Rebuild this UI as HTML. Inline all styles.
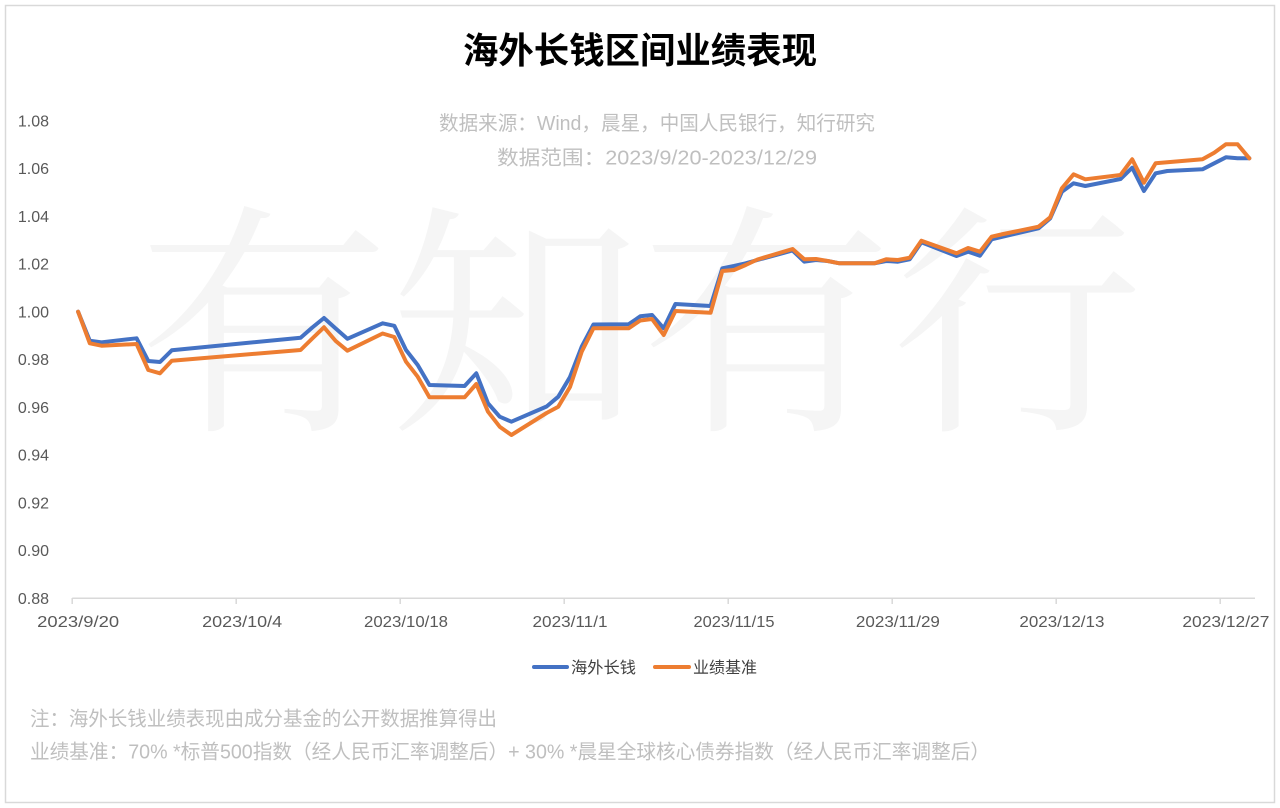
<!DOCTYPE html>
<html>
<head>
<meta charset="utf-8">
<style>
html,body{margin:0;padding:0;background:#fff;}
svg{display:block;}
.t{font-family:"Liberation Sans","Noto Sans CJK SC",sans-serif;}
</style>
</head>
<body>
<svg width="1280" height="808" viewBox="0 0 1280 808" xmlns="http://www.w3.org/2000/svg">
<rect x="0" y="0" width="1280" height="808" fill="#fff"/>
<rect x="5.5" y="5.5" width="1269" height="797" fill="#fff" stroke="#d9d9d9" stroke-width="1.5"/>

<!-- watermark -->
<text x="138" y="412" font-family="'Noto Serif CJK SC','Noto Sans CJK SC',serif" font-size="245" fill="#f5f5f5" textLength="1005" lengthAdjust="spacingAndGlyphs">有知有行</text>

<!-- title -->
<text class="t" x="463" y="63" font-size="36" font-weight="bold" fill="#000" textLength="354" lengthAdjust="spacingAndGlyphs">海外长钱区间业绩表现</text>
<text class="t" x="439" y="130" font-size="20" fill="#bfbfbf" textLength="436" lengthAdjust="spacingAndGlyphs">数据来源：Wind，晨星，中国人民银行，知行研究</text>
<text class="t" x="497" y="164.5" font-size="20" fill="#bfbfbf" textLength="320" lengthAdjust="spacingAndGlyphs">数据范围：2023/9/20-2023/12/29</text>

<!-- y labels -->
<g class="t" font-size="16" fill="#595959" text-anchor="end">
<text x="49" y="126.4">1.08</text>
<text x="49" y="174.2">1.06</text>
<text x="49" y="221.9">1.04</text>
<text x="49" y="269.7">1.02</text>
<text x="49" y="317.4">1.00</text>
<text x="49" y="365.2">0.98</text>
<text x="49" y="412.9">0.96</text>
<text x="49" y="460.7">0.94</text>
<text x="49" y="508.4">0.92</text>
<text x="49" y="556.2">0.90</text>
<text x="49" y="603.9">0.88</text>
</g>

<!-- x axis -->
<line x1="72.2" y1="598.2" x2="1255" y2="598.2" stroke="#d9d9d9" stroke-width="1.5"/>
<g stroke="#d9d9d9" stroke-width="1.5">
<line x1="72.2" y1="598" x2="72.2" y2="604"/>
<line x1="236.2" y1="598" x2="236.2" y2="604"/>
<line x1="400.2" y1="598" x2="400.2" y2="604"/>
<line x1="564.2" y1="598" x2="564.2" y2="604"/>
<line x1="728.2" y1="598" x2="728.2" y2="604"/>
<line x1="892.2" y1="598" x2="892.2" y2="604"/>
<line x1="1056.2" y1="598" x2="1056.2" y2="604"/>
<line x1="1220.2" y1="598" x2="1220.2" y2="604"/>
</g>
<g class="t" font-size="16" fill="#595959" text-anchor="middle">
<text x="78.1" y="627" textLength="82" lengthAdjust="spacingAndGlyphs">2023/9/20</text>
<text x="242.1" y="627" textLength="80" lengthAdjust="spacingAndGlyphs">2023/10/4</text>
<text x="406.0" y="627" textLength="84" lengthAdjust="spacingAndGlyphs">2023/10/18</text>
<text x="570.0" y="627" textLength="75" lengthAdjust="spacingAndGlyphs">2023/11/1</text>
<text x="734.0" y="627" textLength="81" lengthAdjust="spacingAndGlyphs">2023/11/15</text>
<text x="897.9" y="627" textLength="84" lengthAdjust="spacingAndGlyphs">2023/11/29</text>
<text x="1061.9" y="627" textLength="85" lengthAdjust="spacingAndGlyphs">2023/12/13</text>
<text x="1225.9" y="627" textLength="87" lengthAdjust="spacingAndGlyphs">2023/12/27</text>
</g>

<!-- series blue -->
<polyline fill="none" stroke="#4472C4" stroke-width="4" stroke-linejoin="round" stroke-linecap="round" points="
78.1,311.7 89.8,340.7 101.5,342.3 136.6,338.3 148.3,361 160.0,362 171.8,350.3 300.6,337.7 312.3,327.5 324.0,318 335.7,328.5 347.4,338.8 382.6,323.3 394.3,325.8 406.0,350 417.7,365 429.4,385 464.6,386 476.3,373.3 488.0,403.3 499.7,416.7 511.4,421.7 546.6,406.5 558.3,396.7 570.0,377 581.7,346.7 593.4,324.5 628.6,324.3 640.3,316.3 652.0,315 663.7,328.3 675.4,304 710.6,306 722.3,268.3 734.0,266 745.7,263.3 757.4,260 792.6,250.5 804.3,261.7 816.0,260 827.7,261 839.4,263.3 874.5,263.3 886.2,261 897.9,261.7 909.7,259.3 921.4,242.3 956.5,256 968.2,251.7 979.9,255.7 991.6,239.3 1003.3,236.5 1038.5,228.3 1050.2,218.3 1061.9,191.7 1073.6,183.3 1085.3,186 1120.5,179 1132.2,167.7 1143.9,191 1155.6,173.3 1167.3,171 1202.5,169.3 1214.2,163.3 1225.9,157.3 1237.6,158.3 1249.3,158.3"/>

<!-- series orange -->
<polyline fill="none" stroke="#ED7D31" stroke-width="4" stroke-linejoin="round" stroke-linecap="round" points="
78.1,311.7 89.8,343.3 101.5,345.7 136.6,344 148.3,370 160.0,373.3 171.8,360.7 300.6,350 312.3,338.5 324.0,327.3 335.7,341 347.4,350.7 382.6,333.5 394.3,337 406.0,361.7 417.7,376.7 429.4,397.3 464.6,397.3 476.3,384 488.0,411.7 499.7,426.7 511.4,435 546.6,413 558.3,406.7 570.0,387 581.7,351.7 593.4,328.3 628.6,328.3 640.3,320.5 652.0,319 663.7,335 675.4,311 710.6,312.7 722.3,271 734.0,270 745.7,265 757.4,259.5 792.6,249 804.3,259.3 816.0,259 827.7,261 839.4,263.3 874.5,263.3 886.2,259.3 897.9,260 909.7,257.7 921.4,240.7 956.5,253.3 968.2,248 979.9,251.7 991.6,236.7 1003.3,234 1038.5,226.7 1050.2,217.3 1061.9,188.3 1073.6,174.3 1085.3,179.3 1120.5,175 1132.2,159.3 1143.9,182.7 1155.6,163.3 1167.3,162.3 1202.5,159.3 1214.2,152.7 1225.9,144.3 1237.6,144.3 1249.3,158.3"/>

<!-- legend -->
<line x1="534" y1="667" x2="567" y2="667" stroke="#4472C4" stroke-width="4" stroke-linecap="round"/>
<text class="t" x="571" y="673" font-size="16" fill="#404040" textLength="65" lengthAdjust="spacingAndGlyphs">海外长钱</text>
<line x1="655" y1="667" x2="689" y2="667" stroke="#ED7D31" stroke-width="4" stroke-linecap="round"/>
<text class="t" x="693" y="673" font-size="16" fill="#404040" textLength="64" lengthAdjust="spacingAndGlyphs">业绩基准</text>

<!-- notes -->
<text class="t" x="30" y="725.6" font-size="20" fill="#bfbfbf" textLength="467" lengthAdjust="spacingAndGlyphs">注：海外长钱业绩表现由成分基金的公开数据推算得出</text>
<text class="t" x="30" y="758.6" font-size="20" fill="#bfbfbf" textLength="960" lengthAdjust="spacingAndGlyphs">业绩基准：70% *标普500指数（经人民币汇率调整后）+ 30% *晨星全球核心债券指数（经人民币汇率调整后）</text>
</svg>
</body>
</html>
